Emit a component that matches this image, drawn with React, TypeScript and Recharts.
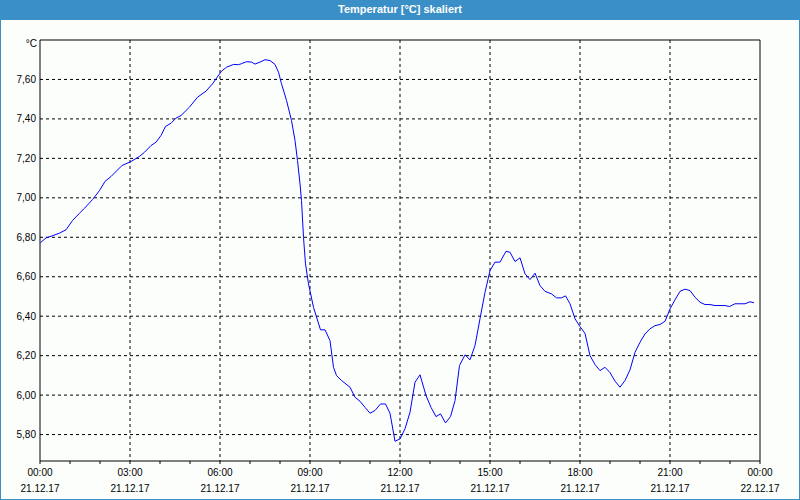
import React from 'react';
import { LineChart, Line, XAxis, YAxis, CartesianGrid, ReferenceLine } from 'recharts';

const title = 'Temperatur [°C] skaliert';
const unitLabel = '°C';
const dateLabels = ['21.12.17', '21.12.17', '21.12.17', '21.12.17', '21.12.17', '21.12.17', '21.12.17', '21.12.17', '22.12.17'];
const timeLabels = ['00:00', '03:00', '06:00', '09:00', '12:00', '15:00', '18:00', '21:00', '00:00'];

// minutes since 21.12.17 00:00
const minutes = [
  1, 12, 22, 39, 52, 65, 79, 89, 105, 119, 130, 142, 164, 182, 199, 209, 222, 232, 242, 251,
  262, 272, 282, 299, 315, 332, 345, 363, 373, 387, 397, 403, 413, 423, 430, 440, 450, 460, 470, 477,
  483, 493, 503, 510, 515, 520, 523, 527, 531, 537, 547, 561, 570, 580, 587, 593, 603, 620, 630, 640,
  650, 660, 670, 681, 691, 700, 710, 720, 730, 740, 750, 760, 772, 782, 792, 801, 811, 821, 830, 839,
  850, 860, 870, 880, 890, 900, 910, 920, 932, 940, 950, 960, 970, 980, 990, 1000, 1010, 1023, 1033, 1043,
  1051, 1060, 1070, 1080, 1090, 1100, 1110, 1120, 1130, 1140, 1150, 1160, 1170, 1180, 1190, 1200, 1210, 1220, 1230, 1240,
  1250, 1260, 1270, 1280, 1290, 1300, 1310, 1320, 1330, 1340, 1350, 1360, 1370, 1379, 1390, 1400, 1410, 1420, 1428,
];
const temps = [
  6.773, 6.797, 6.805, 6.821, 6.838, 6.885, 6.922, 6.947, 6.991, 7.037, 7.083, 7.108, 7.164, 7.184, 7.21, 7.231, 7.265, 7.282, 7.316, 7.362,
  7.378, 7.404, 7.417, 7.46, 7.51, 7.541, 7.578, 7.642, 7.662, 7.676, 7.675, 7.68, 7.69, 7.688, 7.678, 7.688, 7.7, 7.696, 7.676, 7.637,
  7.578, 7.494, 7.392, 7.291, 7.189, 7.071, 6.986, 6.8, 6.665, 6.564, 6.445, 6.331, 6.331, 6.276, 6.141, 6.099, 6.074, 6.04, 5.989, 5.969,
  5.938, 5.908, 5.922, 5.955, 5.955, 5.908, 5.766, 5.778, 5.829, 5.913, 6.065, 6.103, 5.998, 5.938, 5.891, 5.905, 5.859, 5.891, 5.972, 6.15,
  6.204, 6.179, 6.251, 6.387, 6.521, 6.631, 6.674, 6.674, 6.729, 6.724, 6.677, 6.696, 6.615, 6.586, 6.618, 6.555, 6.526, 6.513, 6.493, 6.493,
  6.503, 6.463, 6.387, 6.347, 6.313, 6.2, 6.155, 6.124, 6.141, 6.114, 6.071, 6.04, 6.074, 6.128, 6.217, 6.268, 6.31, 6.336, 6.352, 6.358,
  6.374, 6.437, 6.483, 6.526, 6.537, 6.53, 6.496, 6.471, 6.459, 6.459, 6.454, 6.454, 6.454, 6.449, 6.463, 6.463, 6.463, 6.473, 6.468,
];

const yTicks = [5.8, 6.0, 6.2, 6.4, 6.6, 6.8, 7.0, 7.2, 7.4, 7.6];
const xTicks = Array.from({ length: 25 }, (_, i) => i * 60);
const xMajor = [180, 360, 540, 720, 900, 1080, 1260];
const yMin = 5.666;
const yMax = 7.8;
const xMax = 1440;

const data = minutes.map((t, i) => ({ t, v: temps[i] }));

const FONT = '"Liberation Sans", Arial, sans-serif';
const BLUE = '#3b8fc7';

const XTick = (props: any) => {
  const { x, y, payload } = props;
  const idx = payload.value / 180;
  if (payload.value % 180 !== 0) return null;
  return (
    <g>
      <text x={x} y={y + 10} textAnchor="middle" fontSize={10} fontFamily={FONT} fill="#000">{timeLabels[idx]}</text>
      <text x={x} y={y + 26} textAnchor="middle" fontSize={10} fontFamily={FONT} fill="#000">{dateLabels[idx]}</text>
    </g>
  );
};

export default function App() {
  return (
    <div style={{ position: 'absolute', left: 0, top: 0, width: 800, height: 500, background: '#fcfefc', boxShadow: `inset 0 0 0 1px ${BLUE}`, fontFamily: FONT }}>
      <div style={{ position: 'absolute', left: 0, top: 0, width: 800, height: 20, background: BLUE, color: '#fff', fontWeight: 'bold', fontSize: 11, lineHeight: '19px', textAlign: 'center' }}>
        {title}
      </div>
      <div style={{ position: 'absolute', right: 763, top: 38, fontSize: 10, color: '#000', lineHeight: '12px' }}>{unitLabel}</div>
      <div style={{ position: 'absolute', left: 0, top: 0 }}>
        <LineChart width={800} height={500} data={data} margin={{ top: 40, right: 40, bottom: 0, left: 0 }}>
          <CartesianGrid stroke="#000" strokeDasharray="3 3" verticalValues={xMajor} horizontalValues={yTicks} />
          <XAxis
            dataKey="t"
            type="number"
            domain={[0, xMax]}
            ticks={xTicks}
            interval={0}
            height={39}
            tickSize={3}
            tickLine={{ stroke: '#000' }}
            axisLine={{ stroke: '#000' }}
            tick={<XTick />}
            allowDataOverflow
          />
          <YAxis
            type="number"
            domain={[yMin, yMax]}
            ticks={yTicks}
            width={40}
            tickSize={0}
            tickMargin={4}
            tickLine={false}
            axisLine={{ stroke: '#000' }}
            tick={{ fontSize: 10, fill: '#000', fontFamily: FONT }}
            tickFormatter={(v: number) => v.toFixed(2).replace('.', ',')}
            allowDataOverflow
          />
          <ReferenceLine y={yMax} stroke="#000" />
          <ReferenceLine x={xMax} stroke="#000" />
          <Line type="linear" dataKey="v" stroke="#0000ff" strokeWidth={1} dot={false} isAnimationActive={false} />
        </LineChart>
      </div>
    </div>
  );
}
